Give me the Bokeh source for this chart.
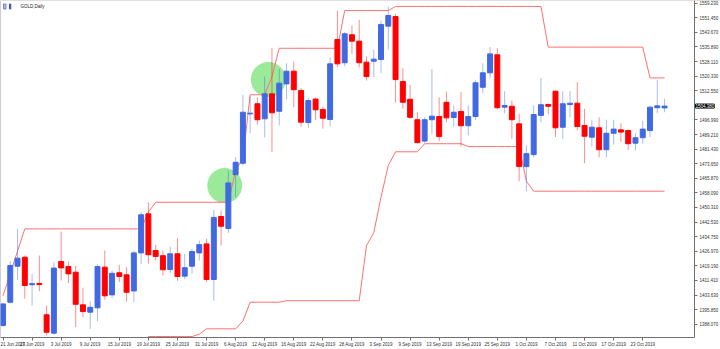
from bokeh.plotting import figure
from bokeh.models import FixedTicker, Label, ColumnDataSource, PrintfTickFormatter, Range1d, LinearAxis, Span
from bokeh.embed import file_html
from bokeh.resources import INLINE

nan = float("nan")

# ---- data (GOLD, Daily) ----
tick_labels = ["21 Jun 2019", "27 Jun 2019", "3 Jul 2019", "9 Jul 2019", "15 Jul 2019",
               "19 Jul 2019", "25 Jul 2019", "31 Jul 2019", "6 Aug 2019", "12 Aug 2019",
               "16 Aug 2019", "22 Aug 2019", "28 Aug 2019", "3 Sep 2019", "9 Sep 2019",
               "13 Sep 2019", "19 Sep 2019", "25 Sep 2019", "1 Oct 2019", "7 Oct 2019",
               "11 Oct 2019", "17 Oct 2019", "23 Oct 2019"]
tick_bars = [0, 4, 8, 12, 16, 20, 24, 28, 32, 36, 40, 44, 48, 52, 56, 60, 64, 68, 72, 76, 80, 84, 88]

opens = [1387.4, 1399.8, 1419.0, 1423.8, 1409.1, 1409.8, 1393.1, 1383.3, 1421.5, 1418.8,
         1415.8, 1398.4, 1394.5, 1396.8, 1418.5, 1403.7, 1415.5, 1414.4, 1405.8, 1426.1,
         1446.9, 1427.4, 1424.6, 1417.2, 1425.6, 1413.7, 1419.0, 1426.1, 1430.9, 1411.9,
         1445.5, 1439.1, 1467.8, 1473.9, 1500.2, 1505.6, 1497.6, 1510.9, 1501.6, 1516.2,
         1523.0, 1512.7, 1495.6, 1508.1, 1502.6, 1497.2, 1539.9, 1527.5, 1542.4, 1539.0,
         1527.8, 1528.3, 1529.2, 1547.0, 1552.1, 1517.5, 1508.0, 1497.1, 1485.7, 1497.1,
         1498.8, 1506.4, 1498.3, 1501.5, 1493.9, 1498.8, 1514.4, 1522.1, 1531.7, 1503.8,
         1504.3, 1494.9, 1472.1, 1478.5, 1499.4, 1505.2, 1512.3, 1493.1, 1505.2, 1505.9,
         1494.0, 1487.8, 1492.8, 1481.1, 1489.9, 1491.7, 1491.3, 1484.6, 1487.5, 1491.3,
         1503.5, 1503.4]
highs = [1399.5, 1421.7, 1438.9, 1424.7, 1414.9, 1424.7, 1398.0, 1421.1, 1437.4, 1421.5,
         1419.2, 1407.5, 1400.2, 1420.0, 1427.4, 1416.7, 1419.7, 1418.5, 1427.4, 1447.8,
         1453.1, 1430.4, 1427.4, 1429.5, 1434.0, 1425.6, 1428.3, 1432.7, 1433.6, 1448.9,
         1448.7, 1470.0, 1477.1, 1510.4, 1509.5, 1509.0, 1520.1, 1535.2, 1524.2, 1527.2,
         1528.1, 1514.0, 1508.6, 1509.0, 1504.1, 1530.4, 1555.3, 1543.8, 1547.3, 1550.4,
         1530.8, 1534.4, 1550.0, 1557.5, 1553.6, 1524.5, 1515.7, 1501.1, 1498.4, 1524.2,
         1509.1, 1512.1, 1504.7, 1511.8, 1504.7, 1518.0, 1527.2, 1535.8, 1535.2, 1512.3,
         1507.3, 1500.3, 1483.4, 1504.7, 1519.4, 1505.8, 1512.6, 1512.3, 1512.3, 1517.1,
         1502.9, 1497.1, 1498.4, 1497.1, 1497.1, 1495.2, 1492.0, 1489.9, 1496.5, 1504.5,
         1518.4, 1508.3]
lows = [1386.5, 1399.0, 1411.7, 1401.6, 1398.0, 1405.7, 1382.0, 1382.7, 1411.4, 1409.9,
        1386.5, 1391.8, 1385.6, 1389.7, 1401.1, 1402.0, 1410.5, 1400.3, 1399.8, 1420.3,
        1420.3, 1422.0, 1414.0, 1415.3, 1411.2, 1412.0, 1414.9, 1422.0, 1410.5, 1400.6,
        1430.0, 1436.8, 1455.8, 1472.7, 1489.9, 1494.5, 1487.6, 1480.0, 1494.0, 1507.9,
        1503.8, 1493.5, 1492.8, 1497.0, 1492.3, 1493.6, 1525.1, 1525.6, 1532.2, 1525.0,
        1518.0, 1519.8, 1521.9, 1534.4, 1506.4, 1502.9, 1497.6, 1484.3, 1484.5, 1489.6,
        1485.7, 1495.8, 1493.5, 1482.8, 1488.7, 1497.0, 1511.2, 1519.5, 1502.5, 1500.6,
        1486.9, 1464.3, 1459.0, 1477.0, 1495.8, 1500.0, 1487.9, 1486.9, 1498.4, 1491.4,
        1473.9, 1482.8, 1477.1, 1477.1, 1483.9, 1485.1, 1481.0, 1480.7, 1484.3, 1487.9,
        1500.6, 1501.1]
closes = [1398.9, 1419.4, 1423.3, 1408.7, 1409.7, 1409.2, 1383.8, 1418.0, 1418.1, 1414.9,
          1398.7, 1394.8, 1397.1, 1418.8, 1403.2, 1415.2, 1413.5, 1405.1, 1426.1, 1446.4,
          1425.1, 1424.2, 1417.1, 1425.6, 1413.5, 1418.2, 1426.8, 1430.5, 1411.9, 1445.0,
          1440.3, 1463.4, 1474.4, 1501.1, 1500.6, 1497.1, 1510.9, 1500.8, 1516.6, 1523.0,
          1513.1, 1495.8, 1507.3, 1502.4, 1497.9, 1526.9, 1526.9, 1542.9, 1539.0, 1527.5,
          1520.1, 1529.4, 1547.9, 1552.7, 1518.5, 1506.4, 1498.4, 1484.9, 1497.1, 1499.0,
          1488.1, 1498.1, 1501.1, 1493.9, 1498.8, 1516.8, 1522.1, 1532.2, 1503.5, 1504.7,
          1497.1, 1472.1, 1479.0, 1499.9, 1505.1, 1504.3, 1492.8, 1505.6, 1505.9, 1493.5,
          1488.3, 1493.1, 1481.1, 1489.9, 1492.1, 1490.5, 1484.3, 1487.5, 1492.1, 1503.8,
          1504.5, 1504.38]

upper_band = [1403.2, 1415.1, 1427.0, 1438.9, 1438.9, 1438.9, 1438.9, 1438.9, 1438.9, 1438.9,
              1438.9, 1438.9, 1438.9, 1438.9, 1438.9, 1438.9, 1438.9, 1438.9, 1438.9, 1438.9,
              1447.8, 1453.1, 1453.1, 1453.1, 1453.1, 1453.1, 1453.1, 1453.1, 1453.1, 1453.1,
              1453.1, 1453.1, 1470.0, 1476.5, 1510.4, 1510.4, 1510.4, 1520.1, 1535.2, 1535.2,
              1535.2, 1535.2, 1535.2, 1535.2, 1535.2, 1535.2, 1535.2, 1555.3, 1555.3, 1555.3,
              1555.3, 1555.3, 1555.3, 1555.3, 1557.5, 1557.5, 1557.5, 1557.5, 1557.5, 1557.5,
              1557.5, 1557.5, 1557.5, 1557.5, 1557.5, 1557.5, 1557.5, 1557.5, 1557.5, 1557.5,
              1557.5, 1557.5, 1557.5, 1557.5, 1557.5, 1535.8, 1535.8, 1535.8, 1535.8, 1535.8,
              1535.8, 1535.8, 1535.8, 1535.8, 1535.8, 1535.8, 1535.8, 1535.8, 1535.8, 1519.4,
              1519.4, 1519.4]
lower_band = [nan, nan, nan, nan, nan, nan, nan, nan, nan, nan,
              nan, nan, nan, nan, nan, nan, nan, nan, nan, 1368.0,
              1381.5, 1381.5, 1381.5, 1381.5, 1381.5, 1381.5, 1381.5, 1382.7, 1385.6, 1385.6,
              1385.6, 1385.6, 1385.6, 1389.7, 1399.8, 1399.8, 1399.8, 1399.8, 1399.8, 1400.6,
              1400.6, 1400.6, 1400.6, 1400.6, 1400.6, 1400.6, 1400.6, 1400.6, 1400.6, 1400.6,
              1430.0, 1436.8, 1455.8, 1472.7, 1480.0, 1480.0, 1480.0, 1480.0, 1484.3, 1484.3,
              1484.3, 1484.3, 1484.3, 1484.3, 1482.8, 1482.8, 1482.8, 1482.8, 1482.8, 1482.8,
              1482.8, 1482.8, 1464.3, 1459.0, 1459.0, 1459.0, 1459.0, 1459.0, 1459.0, 1459.0,
              1459.0, 1459.0, 1459.0, 1459.0, 1459.0, 1459.0, 1459.0, 1459.0, 1459.0, 1459.0,
              1459.0, 1459.0]

y_ticks = [1388.07, 1395.85, 1403.63, 1411.41, 1419.19, 1426.97, 1434.75, 1442.53,
           1450.31, 1458.09, 1465.87, 1473.65, 1481.43, 1489.21, 1496.99,
           1512.55, 1520.33, 1528.11, 1535.89, 1543.67, 1551.45, 1559.23]
last_price = 1504.38
signal_bars = [30.5, 36.5]
signal_prices = [1462.0, 1518.5]

# ---- styling ----
UP = "#4169E1"
DOWN = "#FF0000"
BAND = "#FF7070"
FONT = "Liberation Sans"
AXIS = "#707070"

W, H = 720, 349
PLOT_H = 337            # height of the chart area above the date scale
SCALE_X = 694           # pixel column of the price scale
px_per_bar = 7.2697
x_start = -0.344
x_scale_at = x_start + SCALE_X / px_per_bar
x_end = x_start + W / px_per_bar
y_low, y_high = 1380.98, 1560.67

bars = list(range(len(opens)))
colors = [UP if c >= o else DOWN for o, c in zip(opens, closes)]
src = ColumnDataSource(dict(
    x=bars, o=opens, h=highs, l=lows, c=closes,
    top=[max(o, c) for o, c in zip(opens, closes)],
    bottom=[min(o, c) for o, c in zip(opens, closes)],
    color=colors,
))

p = figure(width=W, height=H, output_backend="svg", toolbar_location=None,
           x_range=Range1d(x_start, x_end), y_range=Range1d(y_low, y_high),
           y_axis_location=None,
           min_border_left=0, min_border_top=0, min_border_right=0, min_border_bottom=12)
p.background_fill_color = "white"
p.border_fill_color = "white"
p.outline_line_color = None
p.grid.visible = False

# chart borders (left and top)
p.add_layout(Span(location=x_start, dimension="height", line_color="#a0a0a0", line_width=1))
p.add_layout(Span(location=y_high, dimension="width", line_color="#c0c0c0", line_width=1))

# signal circles (behind candles)
p.scatter(signal_bars, signal_prices, size=35, marker="circle",
          fill_color="#8FE88F", fill_alpha=0.9, line_color=None)

# channel lines
p.line(bars, upper_band, line_color=BAND, line_width=1)
p.line(bars, lower_band, line_color=BAND, line_width=1)

# candles
p.segment(x0="x", y0="h", x1="x", y1="l", source=src, line_color="color",
          line_alpha=0.45, line_width=1)
p.vbar(x="x", top="top", bottom="bottom", width=0.68, source=src,
       fill_color="color", line_color="color", line_width=1)

# price scale drawn at a fixed place, inside the right side panel
yax = LinearAxis(fixed_location=x_scale_at, ticker=FixedTicker(ticks=y_ticks),
                 formatter=PrintfTickFormatter(format="%.3f"))
p.add_layout(yax, "right")

xax = p.xaxis[0]
xax.ticker = FixedTicker(ticks=tick_bars)
xax.major_label_overrides = {b: t for b, t in zip(tick_bars, tick_labels)}
xax.major_label_text_align = "left"
xax.bounds = (x_start, x_scale_at)

for ax in (xax, yax):
    ax.axis_line_color = AXIS
    ax.major_tick_line_color = AXIS
    ax.major_tick_out = 3
    ax.major_tick_in = 0
    ax.minor_tick_line_color = None
    ax.major_label_text_font = FONT
    ax.major_label_text_font_size = "4.5px"
    ax.major_label_text_color = "#333333"
    ax.major_label_standoff = 2
xax.major_label_standoff = 1

# current price tag on the price scale
p.add_layout(Label(x=x_scale_at, y=last_price, text="%.3f" % last_price, x_offset=1,
                   text_font=FONT, text_font_size="4.5px", text_color="white",
                   text_baseline="middle", background_fill_color="black",
                   border_line_color="black"))

# title
units_per_px = (y_high - y_low) / PLOT_H
p.add_layout(Label(x=x_start + 20 / px_per_bar, y=y_high - 6 * units_per_px,
                   text="GOLD,Daily", text_font=FONT, text_font_size="4.5px",
                   text_color="#222222", text_baseline="middle"))
p.add_layout(Label(x=x_start + 3 / px_per_bar, y=y_high - 6 * units_per_px,
                   text="  ", text_font_size="4.5px", text_baseline="middle",
                   background_fill_color="#b8b8f0", border_line_color="#8080c0"))
p.add_layout(Label(x=x_start + 9 / px_per_bar, y=y_high - 6 * units_per_px,
                   text=" ", text_font_size="4.5px", text_baseline="middle",
                   background_fill_color="#e03030", border_line_color="#3050d0"))

open("out.html", "w").write(file_html(p, INLINE))
